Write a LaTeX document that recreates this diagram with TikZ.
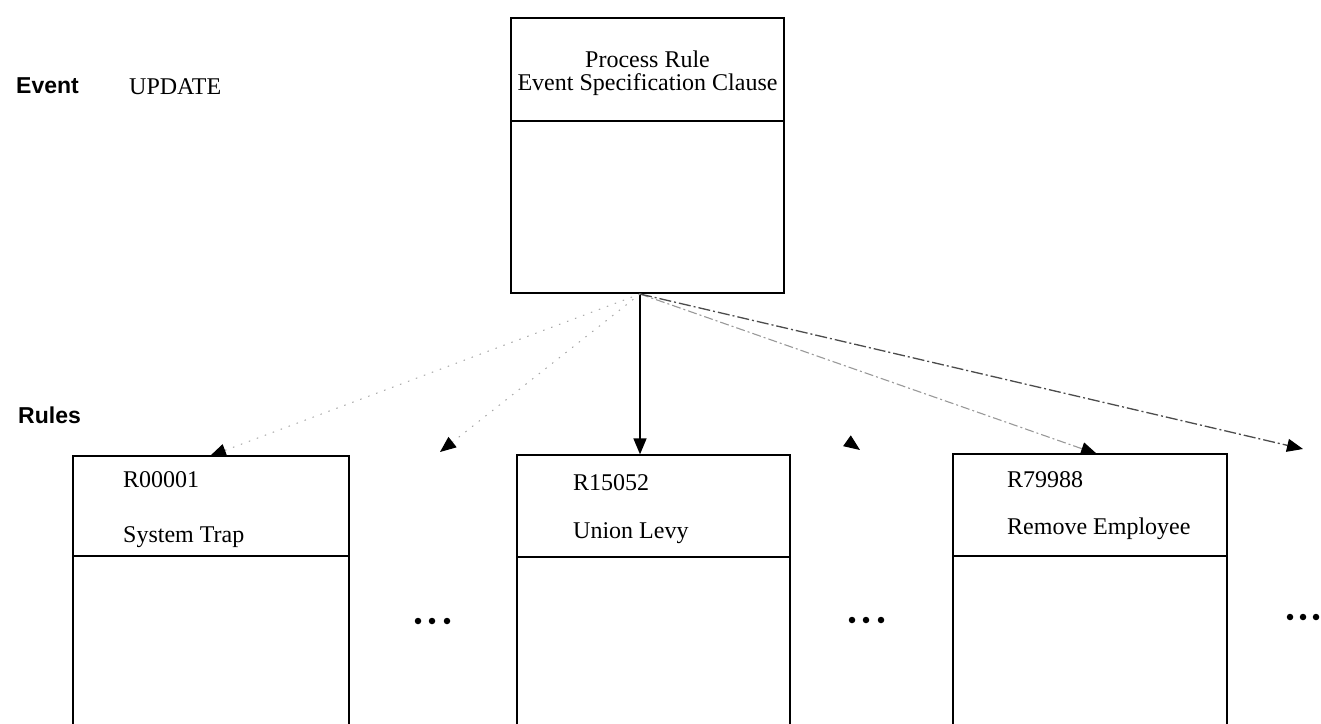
\documentclass[tikz,border=0pt]{standalone}
\usepackage{fontspec}
\setmainfont{Liberation Serif}
\newfontfamily\labelfont{Liberation Sans}
\usetikzlibrary{arrows.meta,calc}
\begin{document}
\begin{tikzpicture}[x=1pt,y=-1pt,
  box/.style={draw, line width=1.3pt, rectangle, inner sep=0pt},
  sep/.style={line width=1.3pt},
  txt/.style={font=\fontsize{24}{26}\selectfont, inner sep=0pt},
  lbl/.style={font=\labelfont\bfseries\fontsize{23}{26}\selectfont, inner sep=0pt},
  tip/.style={-{Triangle[length=16pt,width=13pt,color=black]}},
  faint/.style={tip, draw=gray!70, line width=1pt, dash pattern=on 1.5pt off 7pt},
  dashdot/.style={tip, draw=gray!80, line width=1.1pt, dash pattern=on 9pt off 3pt on 2pt off 3pt},
  dashdotdark/.style={tip, draw=black!70, line width=1.3pt, dash pattern=on 12pt off 3pt on 2pt off 3pt},
  dotmark/.style={circle, fill, inner sep=0pt, minimum size=6.5pt}]
\useasboundingbox (0,0) rectangle (1321,723);
\clip (0,0) rectangle (1321,723);
% top box
\node[box, minimum width=273pt, minimum height=275pt] (top) at (647.5,155.5) {};
\draw[sep] (511,121) -- (784,121);
\node[txt, anchor=base] (pr) at (647.5,67) {Process Rule};
\node[txt, anchor=base] (esc) at (647.5,90) {Event Specification Clause};
% labels
\node[lbl, anchor=base west] (ev) at (16,93) {Event};
\node[txt, anchor=base west] (upd) at (129,94) {UPDATE};
\node[lbl, anchor=base west] (ru) at (18,423) {Rules};
% rule boxes
\node[box, minimum width=276pt, minimum height=304pt] (b1) at (211,608) {};
\draw[sep] (73,556) -- (349,556);
\node[box, minimum width=273pt, minimum height=305pt] (b2) at (653.5,607.5) {};
\draw[sep] (517,557) -- (790,557);
\node[box, minimum width=274pt, minimum height=306pt] (b3) at (1090,607) {};
\draw[sep] (953,556) -- (1227,556);
\node[txt, anchor=base west] (r1) at (123,487) {R00001};
\node[txt, anchor=base west] (n1) at (123,542) {System Trap};
\node[txt, anchor=base west] (r2) at (573,490) {R15052};
\node[txt, anchor=base west] (n2) at (573,538) {Union Levy};
\node[txt, anchor=base west] (r3) at (1007,487) {R79988};
\node[txt, anchor=base west] (n3) at (1007,534) {Remove Employee};
% ellipses
\node[dotmark] (da1) at (418,621) {};
\node[dotmark] (da2) at (432,621) {};
\node[dotmark] (da3) at (447,621) {};
\node[dotmark] (db1) at (852,620) {};
\node[dotmark] (db2) at (866,620) {};
\node[dotmark] (db3) at (881,620) {};
\node[dotmark] (dc1) at (1290,617) {};
\node[dotmark] (dc2) at (1303,617) {};
\node[dotmark] (dc3) at (1316,617) {};
% connectors
\coordinate (o) at (640,294);
\coordinate (t1) at (210,456);
\coordinate (t2) at (440,452);
\coordinate (tm) at (860,450);
\coordinate (t3) at (1097,454);
\coordinate (t4) at (1303,449);
\draw[tip, line width=1.6pt] (o) -- (o |- b2.north);
\draw[faint] (o) -- (t1);
\draw[faint] (o) -- (t2);
\draw[tip, line width=1pt] ($(o)!0.97!(tm)$) -- (tm);
\draw[dashdot] (o) -- (t3);
\draw[dashdotdark] (o) -- (t4);
\end{tikzpicture}
\end{document}
